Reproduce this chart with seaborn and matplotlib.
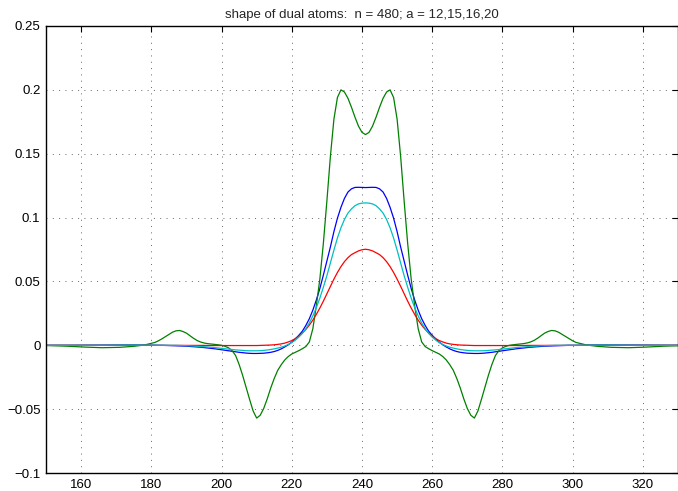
import numpy as np
import pandas as pd
import matplotlib
matplotlib.use("Agg")
import matplotlib.pyplot as plt
import seaborn as sns

# profiles are symmetric around the centre sample, so values are read for one side
CENTER = 241
OFFSET = list(range(0, 61)) + [63, 66, 70, 75, 80, 85, 91]

# a = 12 (blue)
atom_12 = [0.1235, 0.1236, 0.1237, 0.1236, 0.1225, 0.1200, 0.1150, 0.1080, 0.0995, 0.0890,
           0.0770, 0.0660, 0.0550, 0.0445, 0.0355, 0.0275, 0.0208, 0.0155, 0.0110, 0.0078,
           0.0050, 0.0025, 0.0004, -0.0013, -0.0028, -0.0040, -0.0049, -0.0055, -0.0059, -0.0062,
           -0.0063, -0.0064, -0.0064, -0.0063, -0.0061, -0.0058, -0.0055, -0.0051, -0.0047, -0.0043,
           -0.0039, -0.0035, -0.0031, -0.0027, -0.0024, -0.0021, -0.0018, -0.0015, -0.0013, -0.0011,
           -0.0009, -0.0007, -0.0006, -0.0005, -0.0004, -0.0003, -0.0002, -0.0001, 0.0, 0.0,
           0.0, 0.0002, 0.0003, 0.0003, 0.0002, 0.0001, 0.0, 0.0]

# a = 15 (green)
atom_15 = [0.1650, 0.1667, 0.1716, 0.1786, 0.1864, 0.1934, 0.1983, 0.2000, 0.1940, 0.1770,
           0.1480, 0.1130, 0.0800, 0.0520, 0.0310, 0.0130, 0.0026, -0.0010, -0.0027, -0.0042,
           -0.0055, -0.0068, -0.0088, -0.0115, -0.0152, -0.0196, -0.0260, -0.0335, -0.0420, -0.0495,
           -0.0548, -0.0570, -0.0515, -0.0425, -0.0330, -0.0235, -0.0150, -0.0080, -0.0042, -0.0020,
           -0.0008, 0.0, 0.0004, 0.0007, 0.0010, 0.0013, 0.0018, 0.0026, 0.0038, 0.0055,
           0.0075, 0.0095, 0.0108, 0.0116, 0.0113, 0.0102, 0.0085, 0.0067, 0.0050, 0.0035,
           0.0022, 0.0002, -0.0008, -0.0016, -0.0019, -0.0014, -0.0007, -0.0002]

# a = 16 (red)
atom_16 = [0.0752, 0.0748, 0.0739, 0.0725, 0.0710, 0.0686, 0.0655, 0.0616, 0.0570, 0.0518,
           0.0462, 0.0404, 0.0346, 0.0292, 0.0242, 0.0197, 0.0158, 0.0124, 0.0095, 0.0071,
           0.0052, 0.0037, 0.0026, 0.0017, 0.0011, 0.0007, 0.0004, 0.0002, 0.0001, 0.0,
           -0.0001, -0.0002, -0.0002, -0.0002, -0.0002, -0.0002, -0.0002, -0.0002, -0.0002, -0.0002,
           -0.0002, -0.0002, -0.0002, -0.0002, -0.0002, -0.0002, -0.0001, -0.0001, -0.0001, -0.0001,
           -0.0001, -0.0001, -0.0001, -0.0001, -0.0001, -0.0001, -0.0001, -0.0001, -0.0001, -0.0001,
           -0.0001, 0.0, 0.0, 0.0, 0.0, 0.0, 0.0, 0.0]

# a = 20 (cyan)
atom_20 = [0.1115, 0.1113, 0.1107, 0.1093, 0.1068, 0.1035, 0.0985, 0.0920, 0.0840, 0.0745,
           0.0645, 0.0545, 0.0455, 0.0370, 0.0295, 0.0230, 0.0175, 0.0130, 0.0093, 0.0064,
           0.0040, 0.0021, 0.0006, -0.0006, -0.0015, -0.0022, -0.0028, -0.0033, -0.0037, -0.0040,
           -0.0042, -0.0043, -0.0043, -0.0043, -0.0042, -0.0040, -0.0038, -0.0036, -0.0033, -0.0030,
           -0.0027, -0.0024, -0.0021, -0.0018, -0.0016, -0.0013, -0.0011, -0.0009, -0.0007, -0.0006,
           -0.0004, -0.0003, -0.0002, -0.0001, 0.0, 0.0, 0.0, 0.0, 0.0, 0.0,
           0.0, 0.0001, 0.0002, 0.0002, 0.0001, 0.0, 0.0, 0.0]

ATOMS = {"12": atom_12, "15": atom_15, "16": atom_16, "20": atom_20}
COLORS = {"12": "#0000ff", "15": "#008000", "16": "#ff0000", "20": "#00bfbf"}

XTICKS = [160, 180, 200, 220, 240, 260, 280, 300, 320]
YTICKS = [-0.1, -0.05, 0, 0.05, 0.1, 0.15, 0.2, 0.25]
YTICKLABELS = ["\u22120.1", "\u22120.05", "0", "0.05", "0.1", "0.15", "0.2", "0.25"]
TITLE = "shape of dual atoms:  n = 480; a = 12,15,16,20"


def full_profile(half):
    off = np.array(OFFSET)
    half = np.array(half)
    x = np.concatenate([CENTER - off[::-1], CENTER + off[1:]])
    y = np.concatenate([half[::-1], half[1:]])
    return x, y


frames = []
for a, half in ATOMS.items():
    x, y = full_profile(half)
    frames.append(pd.DataFrame({"x": x, "y": y, "a": a}))
df = pd.concat(frames, ignore_index=True)

sns.set_theme(style="white")
plt.rcParams["font.family"] = ["Liberation Sans", "DejaVu Sans"]

fig = plt.figure(figsize=(6.78, 4.91), dpi=100)
ax = fig.add_axes([46 / 678, 18 / 491, 632 / 678, 447 / 491])

sns.lineplot(data=df, x="x", y="y", hue="a", palette=COLORS, hue_order=list(ATOMS),
             estimator=None, sort=False, legend=False, linewidth=0.9, ax=ax)

ax.set_xlim(150, 330)
ax.set_ylim(-0.1, 0.25)
ax.set_xticks(XTICKS)
ax.set_yticks(YTICKS)
ax.set_yticklabels(YTICKLABELS)
ax.set_xlabel("")
ax.set_ylabel("")
ax.grid(True, linestyle=(0, (1, 5.5)), color="0.4", linewidth=0.7)
ax.tick_params(direction="in", length=4, width=0.8, top=True, right=True,
               labelsize=9.5, colors="black", pad=4)
for s in ax.spines.values():
    s.set_color("black")
    s.set_linewidth(1.0)
ax.set_title(TITLE, fontsize=9.5, pad=6)

fig.savefig("out.png", dpi=100)
